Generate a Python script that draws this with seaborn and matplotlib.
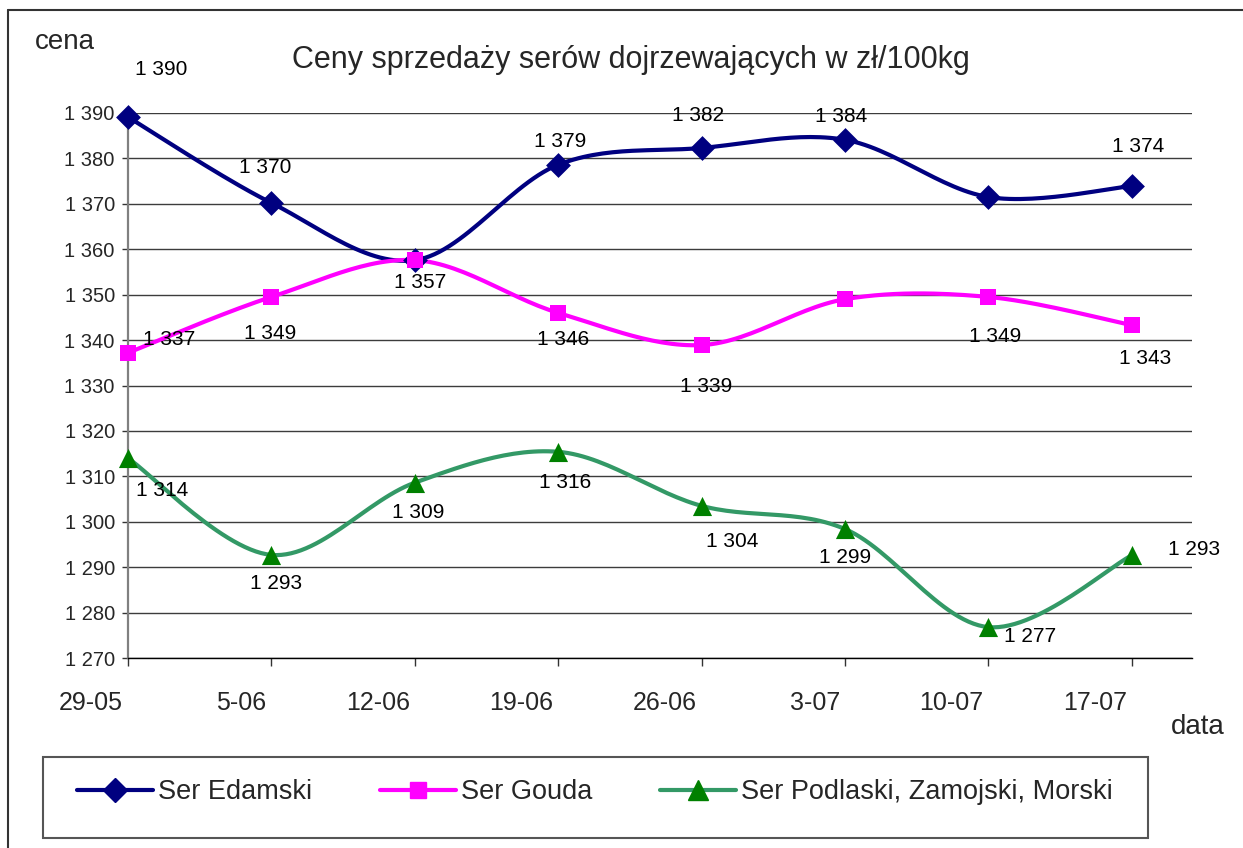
import numpy as np
import pandas as pd
import matplotlib
matplotlib.use("Agg")
import matplotlib.pyplot as plt
import matplotlib.transforms as mtransforms
from matplotlib.lines import Line2D
import seaborn as sns

dates = ["29-05", "5-06", "12-06", "19-06", "26-06", "3-07", "10-07", "17-07"]

edam = [1389.1, 1370.2, 1357.6, 1378.6, 1382.3, 1384.1, 1371.5, 1373.9]
edam_labels = [1390, 1370, 1357, 1379, 1382, 1384, None, 1374]

gouda = [1337.2, 1349.5, 1357.6, 1346.0, 1338.9, 1349.0, 1349.5, 1343.3]
gouda_labels = [1337, 1349, None, 1346, 1339, None, 1349, 1343]

podl = [1314.0, 1292.7, 1308.6, 1315.4, 1303.5, 1298.4, 1276.8, 1292.6]
podl_labels = [1314, 1293, 1309, 1316, 1304, 1299, 1277, 1293]

series_names = ["Ser Edamski", "Ser Gouda", "Ser Podlaski, Zamojski, Morski"]


# Excel-like smoothed line (Catmull-Rom through the points)
def smooth(xs, ys, n=30):
    pts = np.column_stack([xs, ys]).astype(float)
    P = np.vstack([pts[0], pts, pts[-1]])
    out = []
    t = np.linspace(0, 1, n)[:, None]
    for i in range(1, len(P) - 2):
        p0, p1, p2, p3 = P[i - 1], P[i], P[i + 1], P[i + 2]
        c1 = p1 + (p2 - p0) / 6
        c2 = p2 - (p3 - p1) / 6
        seg = (1 - t) ** 3 * p1 + 3 * (1 - t) ** 2 * t * c1 + 3 * (1 - t) * t ** 2 * c2 + t ** 3 * p2
        out.append(seg if i == 1 else seg[1:])
    return np.vstack(out)


def fmt(v):
    return f"{int(v):,}".replace(",", " ")


sns.set_style("white")
plt.rcParams["font.family"] = ["Liberation Sans", "DejaVu Sans"]

fig = plt.figure(figsize=(12.43, 8.48), dpi=100)
ax = fig.add_axes([128 / 1243, 1 - 658 / 848, 1064 / 1243, 545 / 848])

x = np.arange(len(dates))

styles = [
    dict(vals=edam, labels=edam_labels, line="#000080", mcol="#000080", marker="D", s=160,
         offs=[(33, -48), (-6, -35), (5, 22), (2, -23), (-4, -32), (-4, -23), (0, 0), (6, -40)]),
    dict(vals=gouda, labels=gouda_labels, line="#FF00FF", mcol="#FF00FF", marker="s", s=135,
         offs=[(41, -13), (-1, 37), (0, 0), (5, 27), (5, 41), (0, 0), (7, 40), (13, 33)]),
    dict(vals=podl, labels=podl_labels, line="#339966", mcol="#008000", marker="^", s=190,
         offs=[(34, 32), (5, 29), (3, 30), (7, 31), (31, 36), (0, 28), (42, 9), (62, -6)]),
]

for st in styles:
    curve = smooth(x, st["vals"])
    df = pd.DataFrame({"x": curve[:, 0], "y": curve[:, 1]})
    sns.lineplot(data=df, x="x", y="y", sort=False, estimator=None, color=st["line"],
                 lw=3.0, ax=ax, zorder=3, clip_on=False)
    sns.scatterplot(x=x, y=st["vals"], marker=st["marker"], s=st["s"], color=st["mcol"],
                    edgecolor=st["mcol"], linewidth=0, ax=ax, zorder=4, clip_on=False)
    for xi, v, lab, (dx, dy) in zip(x, st["vals"], st["labels"], st["offs"]):
        if lab is None:
            continue
        ax.annotate(fmt(lab), (xi, v), xytext=(dx, -dy), textcoords="offset pixels",
                    ha="center", va="center", fontsize=15, color="black", zorder=5)

ax.set_ylim(1270, 1390)
ax.set_xlim(0, 7.42)
ax.set_yticks(range(1270, 1391, 10))
ax.set_yticklabels([fmt(v) for v in range(1270, 1391, 10)])
ax.set_xticks(x)
ax.set_xticklabels(dates)
ax.yaxis.grid(True, color="#3c3c3c", lw=1)
ax.set_axisbelow(True)
ax.set_xlabel("")
ax.set_ylabel("")

for side in ["top", "right"]:
    ax.spines[side].set_visible(False)
ax.spines["left"].set_color("#808080")
ax.spines["left"].set_linewidth(1.6)
ax.spines["bottom"].set_color("black")
ax.spines["bottom"].set_linewidth(1)

ax.tick_params(axis="y", direction="out", length=4, width=1, color="#333333",
               pad=5.5, labelsize=14.5, left=True)
ax.tick_params(axis="x", direction="out", length=6, width=1, color="#333333",
               pad=18, labelsize=18, bottom=True)
shift = mtransforms.ScaledTranslation(-5 / 100, 0, fig.dpi_scale_trans)
for lbl in ax.get_xticklabels():
    lbl.set_horizontalalignment("right")
    lbl.set_transform(lbl.get_transform() + shift)

fig.text(631 / 1243, 1 - 60 / 848, "Ceny sprzedaży serów dojrzewających w zł/100kg",
         ha="center", va="center", fontsize=22)
fig.text(35 / 1243, 1 - 42 / 848, "cena", ha="left", va="center", fontsize=20)
fig.text(1198 / 1243, 1 - 727 / 848, "data", ha="center", va="center", fontsize=20)

# outer chart frame
fig.add_artist(Line2D([8 / 1243, 8 / 1243], [0, 1 - 10 / 848], transform=fig.transFigure,
                      color="#333333", lw=1.5))
fig.add_artist(Line2D([8 / 1243, 1], [1 - 10 / 848, 1 - 10 / 848], transform=fig.transFigure,
                      color="#333333", lw=1.5))

# legend box
fig.add_artist(plt.Rectangle((43 / 1243, 1 - 838 / 848), 1105 / 1243, 81 / 848,
                             transform=fig.transFigure, fill=False, edgecolor="#555555", lw=1.5))
handles = [
    Line2D([], [], color=st["line"], lw=3.0, marker=st["marker"], markersize=np.sqrt(st["s"]),
           markerfacecolor=st["mcol"], markeredgecolor=st["mcol"])
    for st in styles
]
fig.legend(handles, series_names, loc="center", bbox_to_anchor=(595 / 1243, 1 - 792 / 848),
           ncol=3, frameon=False, fontsize=19.5, handlelength=2.8, handletextpad=0.2,
           columnspacing=2.5)

fig.savefig("out.png", dpi=100)
